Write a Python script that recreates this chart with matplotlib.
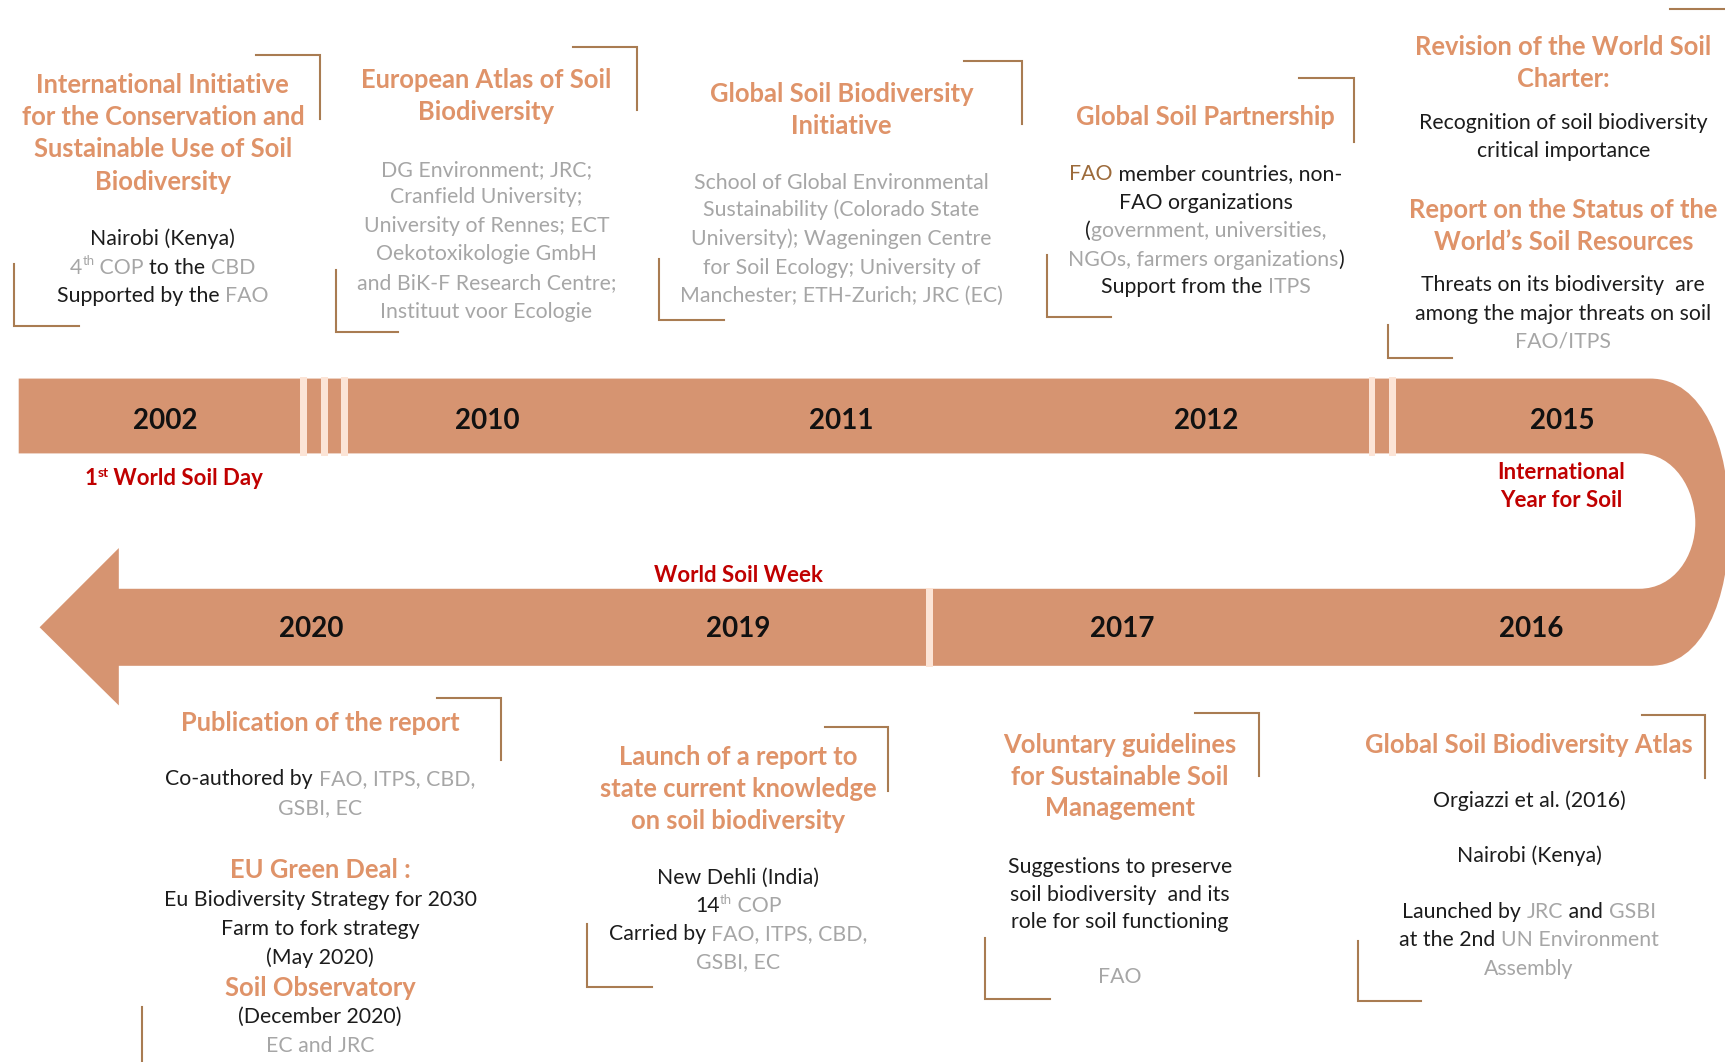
import matplotlib
matplotlib.use('Agg')
import matplotlib.pyplot as plt
from matplotlib.path import Path
from matplotlib.patches import PathPatch

plt.rcParams['font.family'] = ['Lato', 'DejaVu Sans']

# colour roles used in the text segments
COL = {'k': '#1c1c1c', 'g': '#a6a6a6', 'o': '#df9369', 'r': '#c00000', 'b': '#9c6a3a'}
BAND = '#d69471'
STRIPE = '#fce4d6'
LINE = '#a97c52'

# ---- data -------------------------------------------------------------
years_top = ['2002', '2010', '2011', '2012', '2015']
years_bottom = ['2016', '2017', '2019', '2020']

milestone_day = [[('1', 'r'), ('st', 'r', 'sup'), (' World Soil Day', 'r')]]
milestone_year = [[('International', 'r')], [('Year for Soil', 'r')]]
milestone_week = [[('World Soil Week', 'r')]]

ev_iisb = [('t', 'International Initiative'), ('t', 'for the Conservation and'),
           ('t', 'Sustainable Use of Soil'), ('t', 'Biodiversity'),
           ('b', 'Nairobi (Kenya)'),
           ('b', [('4', 'g'), ('th', 'g', 'sup'), (' COP ', 'g'), ('to the ', 'k'), ('CBD', 'g')]),
           ('b', [('Supported by the ', 'k'), ('FAO', 'g')])]
ev_atlas_eu = [('t', 'European Atlas of Soil'), ('t', 'Biodiversity'),
               ('g', 'DG Environment; JRC;'), ('g', 'Cranfield University;'),
               ('g', 'University of Rennes; ECT'), ('g', 'Oekotoxikologie GmbH'),
               ('g', 'and BiK-F Research Centre;'), ('g', 'Instituut voor Ecologie')]
ev_gsbi = [('t', 'Global Soil Biodiversity'), ('t', 'Initiative'),
           ('g', 'School of Global Environmental'), ('g', 'Sustainability (Colorado State'),
           ('g', 'University); Wageningen Centre'), ('g', 'for Soil Ecology; University of'),
           ('g', 'Manchester; ETH-Zurich; JRC (EC)')]
ev_gsp = [('t', 'Global Soil Partnership'),
          ('b', [('FAO', 'b'), (' member countries, non-', 'k')]),
          ('b', 'FAO organizations'),
          ('b', [('(', 'k'), ('government, universities,', 'g')]),
          ('b', [('NGOs, farmers organizations', 'g'), (')', 'k')]),
          ('b', [('Support from the ', 'k'), ('ITPS', 'g')])]
ev_charter = [('t', 'Revision of the World Soil'), ('t', 'Charter:'),
              ('b', 'Recognition of soil biodiversity'), ('b', 'critical importance'),
              ('t', 'Report on the Status of the'), ('t', 'World\u2019s Soil Resources'),
              ('b', 'Threats on its biodiversity  are'), ('b', 'among the major threats on soil'),
              ('g', 'FAO/ITPS')]
ev_pub = [('t', 'Publication of the report'),
          ('b', [('Co-authored by ', 'k'), ('FAO, ITPS, CBD,', 'g')]),
          ('g', 'GSBI, EC'),
          ('t', 'EU Green Deal :'),
          ('b', 'Eu Biodiversity Strategy for 2030'), ('b', 'Farm to fork strategy'),
          ('b', '(May 2020)'),
          ('t', 'Soil Observatory'),
          ('b', '(December 2020)'), ('g', 'EC and JRC')]
ev_launch = [('t', 'Launch of a report to'), ('t', 'state current knowledge'),
             ('t', 'on soil biodiversity'),
             ('b', 'New Dehli (India)'),
             ('b', [('14', 'k'), ('th', 'g', 'sup'), (' COP', 'g')]),
             ('b', [('Carried by ', 'k'), ('FAO, ITPS, CBD,', 'g')]),
             ('g', 'GSBI, EC')]
ev_vg = [('t', 'Voluntary guidelines'), ('t', 'for Sustainable Soil'), ('t', 'Management'),
         ('b', 'Suggestions to preserve'), ('b', 'soil biodiversity  and its'),
         ('b', 'role for soil functioning'), ('g', 'FAO')]
ev_gsba = [('t', 'Global Soil Biodiversity Atlas'),
           ('b', 'Orgiazzi et al. (2016)'),
           ('b', 'Nairobi (Kenya)'),
           ('b', [('Launched by ', 'k'), ('JRC', 'g'), (' and ', 'k'), ('GSBI', 'g')]),
           ('b', [('at the 2nd ', 'k'), ('UN Environment', 'g')]),
           ('g', 'Assembly')]

# ---- layout (in units of a 1568 x 965 canvas) ---------------------------
years_top_x = [150, 443, 765, 1096, 1420]
years_bottom_x = [1392, 1020, 671, 283]
events = [
    (ev_iisb, 148, [77, 106, 135, 165, 216, 242, 268]),
    (ev_atlas_eu, 442, [72, 101, 153, 178, 204, 230, 256, 282]),
    (ev_gsbi, 765, [85, 114, 165, 190, 216, 242, 268]),
    (ev_gsp, 1096, [106, 157, 183, 209, 235, 260]),
    (ev_charter, 1421, [42, 71, 111, 136, 190, 219, 258, 284, 309]),
    (ev_pub, 291, [656, 707, 733, 790, 817, 843, 869, 897, 923, 949]),
    (ev_launch, 671, [687, 716, 745, 797, 822, 848, 873]),
    (ev_vg, 1018, [676, 705, 734, 787, 812, 837, 887]),
    (ev_gsba, 1390, [676, 727, 777, 828, 853, 879]),
]
# corner brackets: (x_left, x_right, y_top, y_bottom) top-right and (x, y_top, y_bottom, x_right) bottom-left
brackets_tr = [(233, 291, 50, 108), (521, 579, 43, 100), (876, 929, 55, 113),
               (1181, 1231, 71, 129), (1518, 1580, 8, 8), (397, 455, 634, 691),
               (750, 807, 661, 719), (1086, 1144, 648, 705), (1493, 1550, 650, 707)]
brackets_bl = [(13, 240, 296, 72), (305, 245, 302, 362), (599, 235, 291, 658),
               (952, 232, 288, 1010), (1262, 295, 325, 1320), (129, 915, 975, 129),
               (534, 840, 897, 593), (895, 852, 908, 954), (1234, 855, 910, 1292)]

SIZE = {'t': 18.4, 'b': 15.3, 'g': 15.3}
WEIGHT = {'t': 'bold', 'b': 'normal', 'g': 'normal'}
DEFAULT_ROLE = {'t': 'o', 'b': 'k', 'g': 'g'}

W, H = 1568, 965
fig = plt.figure(figsize=(17.25, 10.62), dpi=100)
ax = fig.add_axes([0, 0, 1, 1])
ax.set_xlim(0, W)
ax.set_ylim(H, 0)
ax.axis('off')

# ---- the timeline band ------------------------------------------------
verts = [(17, 344), (1500, 344),
         (1548, 344), (1572, 405), (1572, 475),
         (1572, 545), (1548, 605), (1500, 605),
         (108, 605), (108, 641), (36, 570), (108, 498), (108, 535),
         (1490, 535),
         (1522, 535), (1541, 505), (1541, 475),
         (1541, 445), (1522, 412), (1490, 412),
         (17, 412), (17, 344)]
codes = [Path.MOVETO, Path.LINETO,
         Path.CURVE4, Path.CURVE4, Path.CURVE4,
         Path.CURVE4, Path.CURVE4, Path.CURVE4,
         Path.LINETO, Path.LINETO, Path.LINETO, Path.LINETO, Path.LINETO,
         Path.LINETO,
         Path.CURVE4, Path.CURVE4, Path.CURVE4,
         Path.CURVE4, Path.CURVE4, Path.CURVE4,
         Path.LINETO, Path.CLOSEPOLY]
ax.add_patch(PathPatch(Path(verts, codes), facecolor=BAND, edgecolor='none'))

for xs in [276, 295, 313, 1247, 1266]:
    ax.add_patch(plt.Rectangle((xs - 3, 343), 6, 71, facecolor=STRIPE, edgecolor='none'))
ax.add_patch(plt.Rectangle((842, 534), 6, 72, facecolor=STRIPE, edgecolor='none'))

for y, x in zip(years_top, years_top_x):
    ax.text(x, 383, y, ha='center', va='center', fontsize=20, fontweight='bold', color='#111111')
for y, x in zip(years_bottom, years_bottom_x):
    ax.text(x, 572, y, ha='center', va='center', fontsize=20, fontweight='bold', color='#111111')

# ---- rich text helper -------------------------------------------------
fig.canvas.draw()
rend = fig.canvas.get_renderer()
px_per_unit = ax.transData.transform((1, 0))[0] - ax.transData.transform((0, 0))[0]


def text_width(s, size, weight):
    a = ax.text(0, 0, s + '|', fontsize=size, fontweight=weight)
    b = ax.text(0, 0, '|', fontsize=size, fontweight=weight)
    w = a.get_window_extent(rend).width - b.get_window_extent(rend).width
    a.remove()
    b.remove()
    return w / px_per_unit


def rich_line(x, y, parts, size, weight):
    if isinstance(parts, str):
        parts = [(parts, None)]
    pieces = []
    for p in parts:
        s, role = p[0], p[1]
        sup = len(p) > 2
        fs = size * 0.62 if sup else size
        pieces.append((s, role, fs, sup, text_width(s, fs, weight)))
    total = sum(pc[4] for pc in pieces)
    base = y + size * 1.389 * 0.34 / px_per_unit
    cx = x - total / 2
    for s, role, fs, sup, w in pieces:
        yy = base - (size * 1.389 * 0.38 / px_per_unit if sup else 0)
        ax.text(cx, yy, s, fontsize=fs, fontweight=weight, color=COL[role],
                ha='left', va='baseline')
        cx += w


for lines, x, ys in events:
    for (kind, content), y in zip(lines, ys):
        if isinstance(content, str):
            content = [(content, DEFAULT_ROLE[kind])]
        rich_line(x, y, content, SIZE[kind], WEIGHT[kind])

rich_line(158, 434, milestone_day[0], 16, 'bold')
rich_line(1419, 428, milestone_year[0], 16, 'bold')
rich_line(1419, 454, milestone_year[1], 16, 'bold')
rich_line(671, 522, milestone_week[0], 16, 'bold')

# ---- corner brackets ----------------------------------------------------
for x0, x1, y0, y1 in brackets_tr:
    ax.plot([x0, x1, x1], [y0, y0, y1], color=LINE, lw=1.5, solid_joinstyle='miter')
for x, y0, y1, x1 in brackets_bl:
    ax.plot([x, x, x1], [y0, y1, y1], color=LINE, lw=1.5, solid_joinstyle='miter')

fig.savefig('out.png', dpi=100, facecolor='white')
